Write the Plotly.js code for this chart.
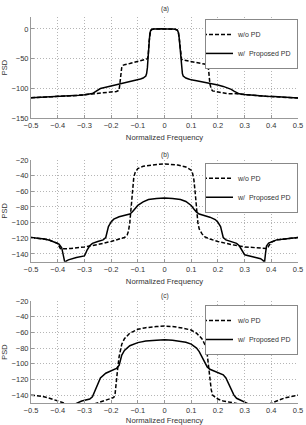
<!DOCTYPE html>
<html>
<head>
<meta charset="utf-8">
<script src="https://cdn.plot.ly/plotly-3.0.1.min.js"></script>
<style>html,body{margin:0;padding:0;background:#fff;}#chart{width:306px;height:425px;}</style>
</head>
<body>
<div id="chart"></div>
<script>
// ---------- Panel (a) ----------
const freqA_wo = [-0.5,-0.47,-0.44,-0.41,-0.38,-0.35,-0.32,-0.3,-0.28,-0.26,-0.24,-0.22,-0.2,-0.18,-0.17,-0.165,-0.16,-0.155,-0.15,-0.13,-0.11,-0.09,-0.075,-0.07,-0.067,-0.064,-0.061,-0.058,-0.055,-0.052,-0.048,-0.04,-0.02,0,0.02,0.04,0.048,0.052,0.055,0.058,0.061,0.064,0.067,0.07,0.09,0.11,0.13,0.15,0.16,0.165,0.17,0.175,0.18,0.2,0.22,0.24,0.26,0.28,0.3,0.32,0.35,0.38,0.41,0.44,0.47,0.5];
const psdA_wo = [-115.5,-115,-114.5,-114,-113.5,-112.5,-111.5,-110.5,-109.5,-108.5,-108,-107.5,-106.5,-105,-103,-85,-64,-61,-60,-58,-56,-54,-52,-51,-50.5,-50,-45,-22,-8,-3,-1,0,0,0,0,-0.5,-2,-6,-15,-32,-48,-51,-51.5,-52,-54,-55.5,-57,-59,-61,-68,-92,-101,-104,-106,-107.5,-109,-108.5,-109,-110,-111,-112,-113,-113.5,-114.5,-115,-116];
const freqA_w = [-0.5,-0.47,-0.44,-0.41,-0.38,-0.35,-0.32,-0.3,-0.28,-0.27,-0.26,-0.25,-0.24,-0.22,-0.2,-0.18,-0.16,-0.14,-0.12,-0.1,-0.09,-0.08,-0.075,-0.07,-0.067,-0.064,-0.061,-0.058,-0.055,-0.052,-0.048,-0.04,-0.03,-0.02,-0.01,0,0.01,0.02,0.03,0.04,0.048,0.052,0.055,0.058,0.061,0.064,0.067,0.07,0.075,0.08,0.09,0.1,0.12,0.14,0.16,0.18,0.2,0.22,0.24,0.25,0.26,0.27,0.28,0.3,0.32,0.35,0.38,0.41,0.44,0.47,0.5];
const psdA_w = [-115.5,-115,-114.5,-114,-113.5,-112.5,-111.5,-110.5,-109.5,-108.5,-105.5,-102,-100,-98,-96,-94,-92,-90,-87.5,-85.5,-84,-82.5,-81,-79,-75,-65,-45,-22,-8,-3,-1,0,0.5,0,0.3,0,0.5,0,-0.3,-0.5,-2,-6,-15,-32,-52,-68,-75,-79,-81,-82.5,-84,-85.5,-87,-88.5,-90,-92,-94,-96.5,-99,-101.5,-104.5,-107.5,-109,-110,-111,-112,-113,-113.5,-114.5,-115,-116];

// ---------- Panel (b) ----------
const freqB_wo = [-0.5,-0.47,-0.45,-0.43,-0.41,-0.4,-0.395,-0.39,-0.385,-0.35,-0.3,-0.25,-0.2,-0.17,-0.15,-0.14,-0.135,-0.13,-0.125,-0.12,-0.115,-0.11,-0.1,-0.08,-0.05,-0.02,0,0.02,0.05,0.08,0.1,0.105,0.11,0.115,0.12,0.125,0.13,0.14,0.15,0.17,0.2,0.25,0.3,0.35,0.385,0.39,0.395,0.4,0.42,0.45,0.48,0.5];
const psdB_wo = [-119,-120,-121,-122.5,-125,-126.5,-130,-133,-133.5,-133,-131,-128,-124,-121.5,-119,-116,-111,-100,-78,-55,-42,-36,-31,-28,-26.5,-25.5,-25,-25.5,-26.5,-29,-33,-37,-45,-62,-85,-100,-108,-114,-118,-121,-124,-128,-131,-132.5,-133,-130,-127,-125,-122,-121,-120,-119];
const freqB_w = [-0.5,-0.47,-0.45,-0.43,-0.41,-0.395,-0.385,-0.38,-0.376,-0.372,-0.368,-0.36,-0.33,-0.3,-0.295,-0.29,-0.28,-0.27,-0.25,-0.23,-0.22,-0.215,-0.21,-0.2,-0.19,-0.17,-0.15,-0.13,-0.12,-0.11,-0.1,-0.08,-0.06,-0.03,0,0.03,0.06,0.08,0.1,0.11,0.12,0.13,0.15,0.17,0.19,0.2,0.21,0.215,0.22,0.23,0.25,0.27,0.28,0.29,0.3,0.33,0.36,0.37,0.374,0.378,0.382,0.39,0.42,0.45,0.48,0.5];
const psdB_w = [-119,-120,-121,-122.5,-125,-127.5,-132,-139,-148,-153,-149,-147.5,-144.5,-142.5,-139,-135,-129.5,-126.5,-124,-122,-119,-111.5,-105,-99,-95.5,-92.5,-90.5,-89,-86,-82,-78,-73.5,-70.5,-69,-68.5,-69,-70.5,-73,-78,-82.5,-86.5,-89,-91,-93,-96,-99.5,-105,-112,-119,-122,-124,-126.5,-129.5,-135,-141,-143.5,-146,-148.5,-153,-140,-130,-126,-122,-121,-120,-119];

// ---------- Panel (c) ----------
const freqC_wo = [-0.5,-0.48,-0.46,-0.44,-0.42,-0.4,-0.38,-0.36,-0.3,-0.27,-0.25,-0.23,-0.21,-0.19,-0.185,-0.18,-0.175,-0.17,-0.165,-0.16,-0.15,-0.13,-0.1,-0.07,-0.03,0,0.03,0.06,0.1,0.12,0.14,0.155,0.16,0.165,0.17,0.175,0.18,0.2,0.22,0.25,0.27,0.3,0.36,0.39,0.4,0.42,0.45,0.48,0.5];
const psdC_wo = [-140,-140.5,-141.5,-143,-145,-147.5,-149.5,-153,-156,-152,-149.5,-147.5,-145.5,-143,-138,-125,-105,-91,-81,-75,-68,-61,-56,-54,-52.5,-52,-52.5,-54,-57,-61,-68,-78,-88,-105,-120,-133,-140,-145,-147.5,-149,-150.5,-155,-155,-151.5,-150,-147.5,-143.5,-141.5,-140];
const freqC_w = [-0.5,-0.4,-0.34,-0.33,-0.31,-0.3,-0.28,-0.27,-0.26,-0.25,-0.24,-0.22,-0.2,-0.19,-0.18,-0.17,-0.165,-0.16,-0.15,-0.13,-0.1,-0.07,-0.03,0,0.03,0.05,0.08,0.1,0.12,0.13,0.14,0.15,0.16,0.17,0.19,0.21,0.22,0.23,0.24,0.25,0.26,0.27,0.29,0.31,0.32,0.4,0.5];
const psdC_w = [-158,-158,-153,-150.5,-147.5,-146.5,-145,-142,-134,-125,-118,-112,-109,-108,-106,-102,-96,-89,-83,-77,-73,-71,-70,-69.5,-70,-71,-72.5,-75,-80,-84.5,-91,-99,-104,-107,-109.5,-112,-114,-118,-125,-133,-140,-144,-147,-150.5,-153,-158,-158];

const seriesNames = ['w/o PD', 'w/  Proposed PD'];
const panelTitles = ['(a)', '(b)', '(c)'];
const xTitle = 'Normalized Frequency';
const yTitle = 'PSD';

const FONT = 'Liberation Sans, Arial, Helvetica, sans-serif';
const TXT = '#333';

function pair(xs, ys, xa, ya, lg, idx) {
  return {
    x: xs, y: ys, xaxis: xa, yaxis: ya, legend: lg,
    type: 'scatter', mode: 'lines', name: seriesNames[idx],
    line: {color: '#000', width: 1.5, dash: idx === 0 ? '4px,2px' : 'solid'},
    hoverinfo: 'skip'
  };
}

const data = [
  pair(freqA_wo, psdA_wo, 'x', 'y', 'legend', 0),
  pair(freqA_w, psdA_w, 'x', 'y', 'legend', 1),
  pair(freqB_wo, psdB_wo, 'x2', 'y2', 'legend2', 0),
  pair(freqB_w, psdB_w, 'x2', 'y2', 'legend2', 1),
  pair(freqC_wo, psdC_wo, 'x3', 'y3', 'legend3', 0),
  pair(freqC_w, psdC_w, 'x3', 'y3', 'legend3', 1)
];

function xax(anchor) {
  return {
    anchor: anchor, domain: [0, 1], range: [-0.5, 0.5], dtick: 0.1, tick0: 0,
    showgrid: true, gridcolor: '#b5b5b5', griddash: '1px,2px', gridwidth: 1,
    zeroline: false, showline: true, linecolor: '#999', linewidth: 1,
    ticks: 'inside', ticklen: 3, tickcolor: '#999',
    tickfont: {family: FONT, size: 7.5, color: TXT},
    title: {text: xTitle, font: {family: FONT, size: 7.7, color: TXT}, standoff: 5}
  };
}
function yax(anchor, dom, range, dtick) {
  return {
    anchor: anchor, domain: dom, range: range, dtick: dtick, tick0: 0,
    showgrid: true, gridcolor: '#b5b5b5', griddash: '1px,2px', gridwidth: 1,
    zeroline: false, showline: true, linecolor: '#999', linewidth: 1,
    ticks: 'inside', ticklen: 3, tickcolor: '#999',
    tickfont: {family: FONT, size: 7.5, color: TXT},
    title: {text: yTitle, font: {family: FONT, size: 7.5, color: TXT}, standoff: 3}
  };
}
function leg(ytop) {
  return {
    x: 1, xanchor: 'right', y: ytop, yanchor: 'top',
    bgcolor: '#fff', bordercolor: '#888', borderwidth: 1,
    font: {family: FONT, size: 7, color: TXT}, itemwidth: 30, tracegroupgap: 0,
    indentation: -8
  };
}

const layout = {
  width: 306, height: 425,
  margin: {l: 31, r: 8, t: 17, b: 22},
  paper_bgcolor: '#fff', plot_bgcolor: '#fff',
  font: {family: FONT, size: 7.5, color: TXT},
  showlegend: true,
  xaxis: xax('y'),
  yaxis: yax('x', [0.7376, 1], [-150, 20], 50),
  xaxis2: xax('y2'),
  yaxis2: yax('x2', [0.3658, 0.6295], [-150, -20], 20),
  xaxis3: xax('y3'),
  yaxis3: yax('x3', [0, 0.2642], [-150, -20], 20),
  legend: leg(0.995),
  legend2: leg(0.6225),
  legend3: leg(0.2539),
  annotations: [
    {text: panelTitles[0], xref: 'paper', yref: 'paper', x: 0.5, y: 1.0207, showarrow: false, yanchor: 'middle', font: {family: FONT, size: 6.5, color: TXT}},
    {text: panelTitles[1], xref: 'paper', yref: 'paper', x: 0.5, y: 0.6425, showarrow: false, yanchor: 'middle', font: {family: FONT, size: 6.5, color: TXT}},
    {text: panelTitles[2], xref: 'paper', yref: 'paper', x: 0.5, y: 0.2772, showarrow: false, yanchor: 'middle', font: {family: FONT, size: 6.5, color: TXT}}
  ]
};

Plotly.newPlot('chart', data, layout, {staticPlot: true, displayModeBar: false});
</script>
</body>
</html>
